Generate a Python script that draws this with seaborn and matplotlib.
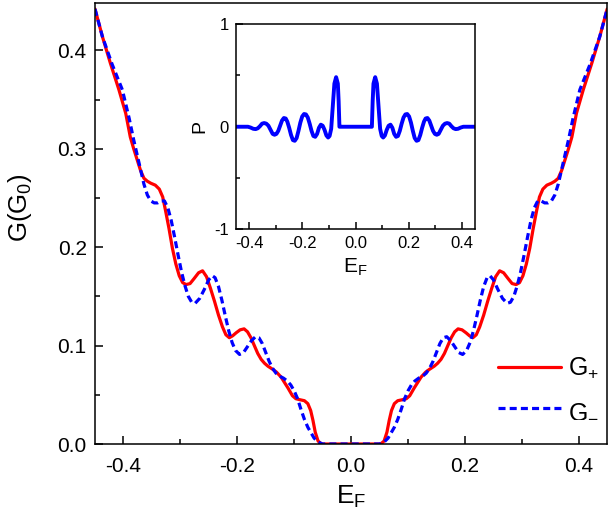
import numpy as np
import pandas as pd
import matplotlib
matplotlib.use("Agg")
import matplotlib.pyplot as plt
import seaborn as sns

# main panel: conductance G+ (solid red) and G- (dashed blue) vs E_F
e_plus = [-0.450, -0.437, -0.423, -0.408, -0.396, -0.388, -0.382, -0.376, -0.370, -0.364,
          -0.358, -0.352, -0.344, -0.337, -0.331, -0.326, -0.320, -0.314, -0.308, -0.302,
          -0.296, -0.290, -0.283, -0.276, -0.268, -0.261, -0.254, -0.247, -0.240, -0.233,
          -0.226, -0.220, -0.214, -0.208, -0.202, -0.195, -0.188, -0.182, -0.176, -0.170,
          -0.164, -0.158, -0.152, -0.146, -0.138, -0.131, -0.123, -0.111, -0.103, -0.097,
          -0.090, -0.082, -0.076, -0.071, -0.067, -0.063, -0.058, -0.052, -0.040, 0.000,
          0.040, 0.052, 0.058, 0.063, 0.067, 0.071, 0.076, 0.082, 0.090, 0.097,
          0.103, 0.111, 0.123, 0.131, 0.138, 0.146, 0.152, 0.158, 0.164, 0.170,
          0.176, 0.182, 0.188, 0.195, 0.202, 0.208, 0.214, 0.220, 0.226, 0.233,
          0.240, 0.247, 0.254, 0.261, 0.268, 0.276, 0.283, 0.290, 0.296, 0.302,
          0.308, 0.314, 0.320, 0.326, 0.331, 0.337, 0.344, 0.352, 0.358, 0.364,
          0.370, 0.376, 0.382, 0.388, 0.396, 0.408, 0.423, 0.437, 0.450]
g_plus = [0.442, 0.414, 0.387, 0.360, 0.336, 0.312, 0.300, 0.289, 0.278, 0.270,
          0.267, 0.265, 0.263, 0.259, 0.251, 0.237, 0.219, 0.199, 0.183, 0.171,
          0.164, 0.162, 0.163, 0.168, 0.174, 0.176, 0.170, 0.158, 0.145, 0.131,
          0.119, 0.111, 0.108, 0.110, 0.113, 0.116, 0.117, 0.114, 0.108, 0.100,
          0.092, 0.086, 0.082, 0.079, 0.076, 0.073, 0.068, 0.057, 0.049, 0.046,
          0.045, 0.044, 0.041, 0.034, 0.024, 0.012, 0.003, 0.000, 0.000, 0.000,
          0.000, 0.000, 0.003, 0.012, 0.024, 0.034, 0.041, 0.044, 0.045, 0.046,
          0.049, 0.057, 0.068, 0.073, 0.076, 0.079, 0.082, 0.086, 0.092, 0.100,
          0.108, 0.114, 0.117, 0.116, 0.113, 0.110, 0.108, 0.111, 0.119, 0.131,
          0.145, 0.158, 0.170, 0.176, 0.174, 0.168, 0.163, 0.162, 0.164, 0.171,
          0.183, 0.199, 0.219, 0.237, 0.251, 0.259, 0.263, 0.265, 0.267, 0.270,
          0.278, 0.289, 0.300, 0.312, 0.336, 0.360, 0.387, 0.414, 0.442]

e_minus = [-0.450, -0.437, -0.420, -0.402, -0.390, -0.382, -0.376, -0.370, -0.364, -0.358,
           -0.352, -0.346, -0.340, -0.334, -0.328, -0.322, -0.316, -0.310, -0.304, -0.298,
           -0.292, -0.286, -0.280, -0.274, -0.266, -0.258, -0.250, -0.244, -0.239, -0.233,
           -0.227, -0.221, -0.215, -0.209, -0.203, -0.196, -0.189, -0.182, -0.175, -0.168,
           -0.162, -0.156, -0.150, -0.144, -0.138, -0.132, -0.126, -0.119, -0.112, -0.106,
           -0.100, -0.094, -0.088, -0.082, -0.076, -0.070, -0.065, -0.058, -0.050, -0.040,
           0.000,
           0.040, 0.050, 0.058, 0.065, 0.070, 0.076, 0.082, 0.088, 0.094, 0.100,
           0.106, 0.112, 0.119, 0.126, 0.132, 0.138, 0.144, 0.150, 0.156, 0.162,
           0.168, 0.175, 0.182, 0.189, 0.196, 0.203, 0.209, 0.215, 0.221, 0.227,
           0.233, 0.239, 0.244, 0.250, 0.258, 0.266, 0.274, 0.280, 0.286, 0.292,
           0.298, 0.304, 0.310, 0.316, 0.322, 0.328, 0.334, 0.340, 0.346, 0.352,
           0.358, 0.364, 0.370, 0.376, 0.382, 0.390, 0.402, 0.420, 0.437, 0.450]
g_minus = [0.442, 0.414, 0.386, 0.360, 0.331, 0.309, 0.294, 0.279, 0.264, 0.253,
           0.247, 0.245, 0.245, 0.247, 0.247, 0.240, 0.227, 0.210, 0.192, 0.175,
           0.161, 0.150, 0.144, 0.143, 0.148, 0.157, 0.167, 0.171, 0.169, 0.160,
           0.146, 0.130, 0.115, 0.103, 0.095, 0.091, 0.093, 0.099, 0.105, 0.109,
           0.108, 0.102, 0.093, 0.084, 0.077, 0.072, 0.069, 0.067, 0.064, 0.060,
           0.054, 0.046, 0.035, 0.025, 0.017, 0.011, 0.006, 0.002, 0.000, 0.000,
           0.000,
           0.000, 0.000, 0.002, 0.006, 0.011, 0.017, 0.025, 0.035, 0.046, 0.054,
           0.060, 0.064, 0.067, 0.069, 0.072, 0.077, 0.084, 0.093, 0.102, 0.108,
           0.109, 0.105, 0.099, 0.093, 0.091, 0.095, 0.103, 0.115, 0.130, 0.146,
           0.160, 0.169, 0.171, 0.167, 0.157, 0.148, 0.143, 0.144, 0.150, 0.161,
           0.175, 0.192, 0.210, 0.227, 0.240, 0.247, 0.247, 0.245, 0.245, 0.247,
           0.253, 0.264, 0.279, 0.294, 0.309, 0.331, 0.360, 0.386, 0.414, 0.442]

# inset: polarization P vs E_F
e_pol = [-0.450, -0.420, -0.405, -0.395, -0.385, -0.376, -0.368, -0.360, -0.352, -0.344,
         -0.336, -0.328, -0.320, -0.312, -0.305, -0.298, -0.291, -0.284, -0.277, -0.270,
         -0.263, -0.257, -0.250, -0.243, -0.236, -0.229, -0.222, -0.215, -0.208, -0.201,
         -0.194, -0.187, -0.180, -0.173, -0.166, -0.159, -0.152, -0.145, -0.138, -0.131,
         -0.124, -0.117, -0.110, -0.1035, -0.098, -0.092, -0.086, -0.080, -0.0735, -0.067,
         -0.064, -0.061, -0.058, 0.000,
         0.058, 0.061, 0.064, 0.067, 0.0735, 0.080, 0.086, 0.092, 0.098, 0.1035,
         0.110, 0.117, 0.124, 0.131, 0.138, 0.145, 0.152, 0.159, 0.166, 0.173,
         0.180, 0.187, 0.194, 0.201, 0.208, 0.215, 0.222, 0.229, 0.236, 0.243,
         0.250, 0.257, 0.263, 0.270, 0.277, 0.284, 0.291, 0.298, 0.305, 0.312,
         0.320, 0.328, 0.336, 0.344, 0.352, 0.360, 0.368, 0.376, 0.385, 0.395,
         0.405, 0.420, 0.450]
p_val = [0.0, 0.0, 0.0, -0.008, -0.020, -0.023, -0.015, 0.005, 0.030, 0.036,
         0.030, 0.010, -0.030, -0.070, -0.078, -0.070, -0.040, 0.010, 0.060, 0.085,
         0.080, 0.050, -0.010, -0.080, -0.130, -0.137, -0.110, -0.040, 0.040, 0.100,
         0.124, 0.120, 0.090, 0.030, -0.040, -0.090, -0.098, -0.070, -0.010, 0.020,
         0.010, -0.030, -0.085, -0.105, -0.090, -0.020, 0.200, 0.420, 0.483, 0.420,
         0.250, 0.0, 0.0, 0.0,
         0.0, 0.0, 0.250, 0.420, 0.483, 0.420, 0.200, -0.020, -0.090, -0.105,
         -0.085, -0.030, 0.010, 0.020, -0.010, -0.070, -0.098, -0.090, -0.040, 0.030,
         0.090, 0.120, 0.124, 0.100, 0.040, -0.040, -0.110, -0.137, -0.130, -0.080,
         -0.010, 0.050, 0.080, 0.085, 0.060, 0.010, -0.040, -0.070, -0.078, -0.070,
         -0.030, 0.010, 0.030, 0.036, 0.030, 0.005, -0.015, -0.023, -0.020, -0.008,
         0.0, 0.0, 0.0]

sns.set_style("ticks")
plt.rcParams['font.family'] = ['Liberation Sans', 'DejaVu Sans']
plt.rcParams['mathtext.default'] = 'regular'
plt.rcParams['axes.unicode_minus'] = False
plt.rcParams['axes.linewidth'] = 1.1
plt.rcParams['axes.edgecolor'] = 'black'
plt.rcParams['text.color'] = 'black'
plt.rcParams['axes.labelcolor'] = 'black'
plt.rcParams['xtick.color'] = 'black'
plt.rcParams['ytick.color'] = 'black'

fig = plt.figure(figsize=(6.09, 5.19), dpi=100)
ax = fig.add_axes([0.156, 0.1445, 0.841, 0.8495])

sns.lineplot(x=e_plus, y=g_plus, ax=ax, color='#ff0000', linewidth=2.3, sort=False,
             label='G$_{{+}}$')
sns.lineplot(x=e_minus, y=g_minus, ax=ax, color='#0000ff', linewidth=2.3, sort=False,
             linestyle=(0, (2.2, 1.3)), label='G$_{{-}}$')

ax.set_xlim(-0.45, 0.45)
ax.set_ylim(0, 0.448)
ax.set_xticks([-0.4, -0.2, 0.0, 0.2, 0.4])
ax.set_xticks([-0.3, -0.1, 0.1, 0.3], minor=True)
ax.set_yticks([0.0, 0.1, 0.2, 0.3, 0.4])
ax.set_yticks([0.05, 0.15, 0.25, 0.35], minor=True)
ax.xaxis.set_major_formatter(matplotlib.ticker.FormatStrFormatter('%.1f'))
ax.yaxis.set_major_formatter(matplotlib.ticker.FormatStrFormatter('%.1f'))
ax.tick_params(which='major', direction='in', length=6, width=1.1, labelsize=15, pad=6)
ax.tick_params(axis='x', which='major', pad=9)
ax.tick_params(which='minor', direction='in', length=3.5, width=1.1)
ax.set_xlabel('E$_F$', fontsize=19, labelpad=6)
ax.set_ylabel('G(G$_0$)', fontsize=18.5)
ax.yaxis.set_label_coords(-0.12, 0.535)

ax.legend(loc='lower right', bbox_to_anchor=(0.985, 0.05), frameon=False, fontsize=18,
          handlelength=2.5, handletextpad=0.3, labelspacing=0.7,
          borderaxespad=0, borderpad=0)

# inset
axi = fig.add_axes([0.3875, 0.558, 0.393, 0.3956])
sns.lineplot(x=e_pol, y=p_val, ax=axi, color='#0000ff', linewidth=2.8, sort=False)
axi.set_xlim(-0.45, 0.45)
axi.set_ylim(-1, 1)
axi.set_xticks([-0.4, -0.2, 0.0, 0.2, 0.4])
axi.set_xticks([-0.3, -0.1, 0.1, 0.3], minor=True)
axi.set_yticks([-1, 0, 1])
axi.set_yticks([-0.5, 0.5], minor=True)
axi.xaxis.set_major_formatter(matplotlib.ticker.FormatStrFormatter('%.1f'))
axi.tick_params(which='major', direction='in', length=5, width=1.1, labelsize=12, pad=5)
axi.tick_params(which='minor', direction='in', length=3, width=1.1)
axi.set_xlabel('E$_F$', fontsize=15, labelpad=4)
axi.set_ylabel('P', fontsize=14, labelpad=4)

fig.savefig('out.png', dpi=100)
